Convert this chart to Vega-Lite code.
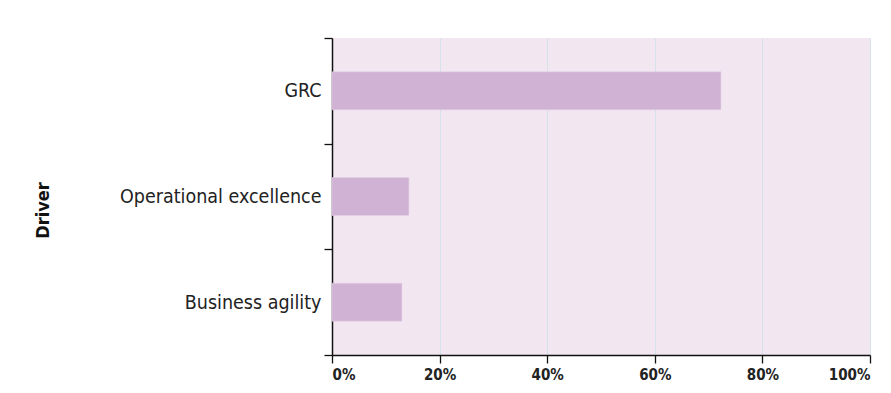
{
  "$schema": "https://vega.github.io/schema/vega-lite/v6.json",
  "autosize": "none",
  "width": 538,
  "height": 317,
  "padding": {"left": 332, "top": 38, "right": 21, "bottom": 38},
  "background": "white",
  "data": {
    "values": [
      {"driver": "GRC", "share": 0.723},
      {"driver": "Operational excellence", "share": 0.143},
      {"driver": "Business agility", "share": 0.13}
    ]
  },
  "mark": {"type": "bar", "color": "#d0b2d4", "stroke": "#e6d3e6", "strokeWidth": 0.5, "height": {"band": 0.36}},
  "encoding": {
    "y": {
      "field": "driver",
      "type": "nominal",
      "sort": null,
      "scale": {"paddingInner": 0, "paddingOuter": 0},
      "axis": {
        "title": "Driver",
        "titleFont": "DejaVu Sans Condensed, Roboto",
        "titleFontSize": 18,
        "titleFontWeight": "bold",
        "titleColor": "#111",
        "titleX": -280,
        "titleY": 172,
        "labelFont": "DejaVu Sans Condensed, Roboto",
        "labelFontSize": 19.5,
        "labelColor": "#222",
        "labelPadding": 3,
        "labelLimit": 320,
        "tickBand": "extent",
        "tickSize": 8,
        "tickColor": "#111",
        "tickWidth": 1.3,
        "domainColor": "#111",
        "domainWidth": 1.5,
        "grid": false
      }
    },
    "x": {
      "field": "share",
      "type": "quantitative",
      "scale": {"domain": [0, 1], "nice": false},
      "axis": {
        "title": null,
        "format": ".0%",
        "values": [0, 0.2, 0.4, 0.6, 0.8, 1],
        "labelFont": "DejaVu Sans Condensed, Roboto",
        "labelFontSize": 15,
        "labelFontWeight": "bold",
        "labelColor": "#222",
        "labelPadding": 4,
        "tickSize": 8,
        "tickColor": "#111",
        "tickWidth": 1.3,
        "domainColor": "#111",
        "domainWidth": 1.5,
        "grid": true,
        "gridColor": "#d6e2ea",
        "gridWidth": 1
      }
    }
  },
  "config": {
    "view": {"fill": "#f2e6f1", "stroke": null}
  }
}
